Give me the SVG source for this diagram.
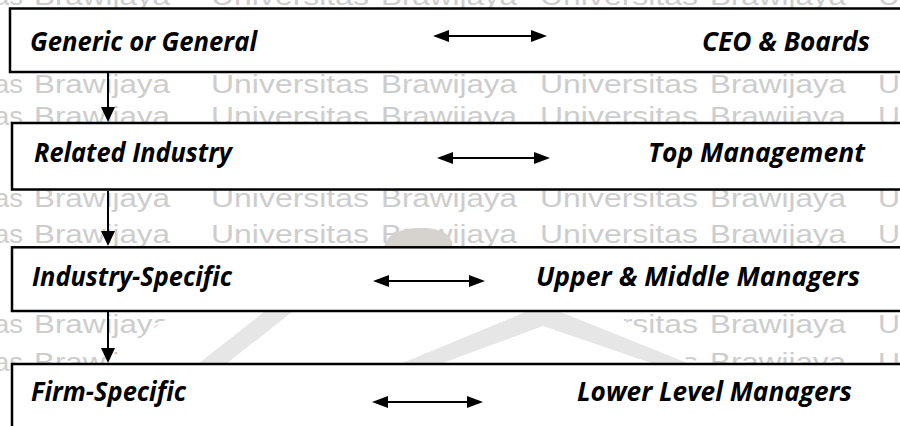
<svg xmlns="http://www.w3.org/2000/svg" width="900" height="426" viewBox="0 0 900 426">
<style>
.wm{font-family:"Liberation Sans",Arial,sans-serif;font-size:25px;fill:#cdcdcd}
.box{fill:#fff;stroke:#000;stroke-width:2.5}
.lbl{font-family:"Open Sans","Liberation Sans",sans-serif;font-size:26px;font-weight:bold;font-style:italic;fill:#000}
.conn{stroke:#000;stroke-width:2;fill:none}
.band{fill:#e6e6e6}
</style>
<defs>
<marker id="ah" viewBox="0 0 16 12" refX="8" refY="6" markerWidth="16" markerHeight="12" markerUnits="userSpaceOnUse" orient="auto-start-reverse"><path d="M0,0 L16,6 L0,12 Z" fill="#000"/></marker>
<marker id="av" viewBox="0 0 15 14" refX="7" refY="7" markerWidth="15" markerHeight="14" markerUnits="userSpaceOnUse" orient="auto"><path d="M0,0 L15,7 L0,14 Z" fill="#000"/></marker>
<g id="wmrow">
<text class="wm" x="-6" textLength="29" lengthAdjust="spacingAndGlyphs">as</text>
<text class="wm" x="34" textLength="136" lengthAdjust="spacingAndGlyphs">Brawijaya</text>
<text class="wm" x="211" textLength="158" lengthAdjust="spacingAndGlyphs">Universitas</text>
<text class="wm" x="381" textLength="136" lengthAdjust="spacingAndGlyphs">Brawijaya</text>
<text class="wm" x="540" textLength="158" lengthAdjust="spacingAndGlyphs">Universitas</text>
<text class="wm" x="710" textLength="136" lengthAdjust="spacingAndGlyphs">Brawijaya</text>
<text class="wm" x="878" textLength="22" lengthAdjust="spacingAndGlyphs">U</text>
</g>
</defs>
<rect x="0" y="0" width="900" height="426" fill="#fff"/>
<g id="watermark">
<use href="#wmrow" y="5"/>
<use href="#wmrow" y="93"/>
<use href="#wmrow" y="125"/>
<use href="#wmrow" y="207"/>
<use href="#wmrow" y="243"/>
<use href="#wmrow" y="333"/>
<use href="#wmrow" y="371"/>
<polygon points="175,313 612,313 694,364 104,364" fill="#fff"/>
<polygon class="band" points="264,312 292,312 226,364 198,364"/>
<polygon class="band" points="400,364 528,311 558,311 690,364 654,364 543,326 440,364"/>
<path d="M384,247 C387,232 405,227 425,228 C445,229 454,238 452,247 Z" fill="#d6d3ce"/>
</g>
<g id="node-generic">
<rect class="box" x="10" y="8.5" width="900" height="63.5"/>
<text class="lbl" x="30" y="51" textLength="227" lengthAdjust="spacingAndGlyphs">Generic or General</text>
<text class="lbl" x="702" y="51" textLength="168" lengthAdjust="spacingAndGlyphs">CEO &amp; Boards</text>
</g>
<g id="node-related">
<rect class="box" x="12" y="123" width="900" height="66.5"/>
<text class="lbl" x="34" y="161.5" textLength="198" lengthAdjust="spacingAndGlyphs">Related Industry</text>
<text class="lbl" x="648" y="162" textLength="217" lengthAdjust="spacingAndGlyphs">Top Management</text>
</g>
<g id="node-industry">
<rect class="box" x="12" y="247.3" width="900" height="63.7"/>
<text class="lbl" x="32" y="286" textLength="200" lengthAdjust="spacingAndGlyphs">Industry-Specific</text>
<text class="lbl" x="536" y="286" textLength="324" lengthAdjust="spacingAndGlyphs">Upper &amp; Middle Managers</text>
</g>
<g id="node-firm">
<rect class="box" x="12" y="364" width="900" height="80"/>
<text class="lbl" x="31" y="401" textLength="155" lengthAdjust="spacingAndGlyphs">Firm-Specific</text>
<text class="lbl" x="577" y="401" textLength="275" lengthAdjust="spacingAndGlyphs">Lower Level Managers</text>
</g>
<g id="connectors">
<line class="conn" x1="441" y1="36" x2="539" y2="36" marker-start="url(#ah)" marker-end="url(#ah)"/>
<line class="conn" x1="445" y1="158" x2="542" y2="158" marker-start="url(#ah)" marker-end="url(#ah)"/>
<line class="conn" x1="381" y1="281" x2="477" y2="281" marker-start="url(#ah)" marker-end="url(#ah)"/>
<line class="conn" x1="380" y1="402" x2="475" y2="402" marker-start="url(#ah)" marker-end="url(#ah)"/>
<line class="conn" x1="108" y1="73" x2="108" y2="114" marker-end="url(#av)"/>
<line class="conn" x1="108" y1="191" x2="108" y2="238" marker-end="url(#av)"/>
<line class="conn" x1="108" y1="312" x2="108" y2="355" marker-end="url(#av)"/>
</g>
</svg>
